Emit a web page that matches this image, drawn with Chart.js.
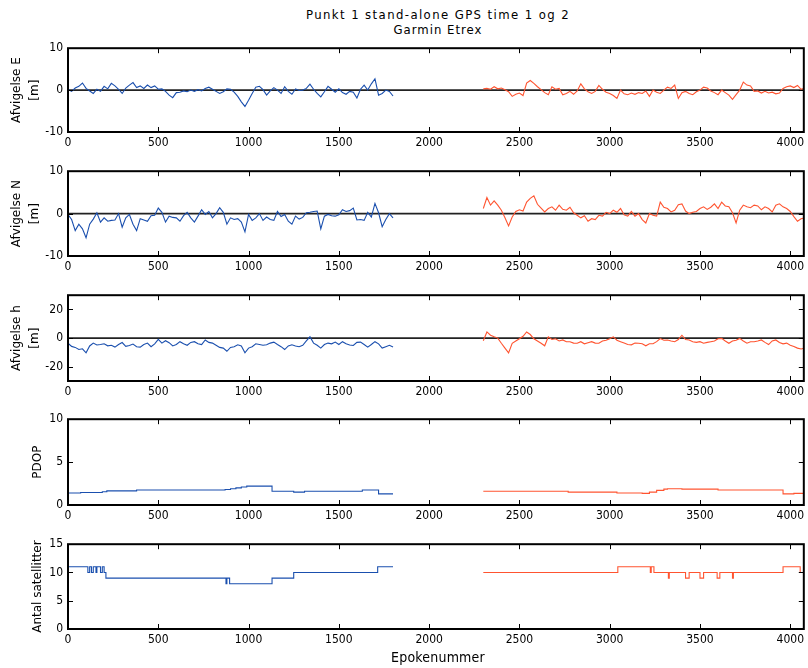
<!DOCTYPE html>
<html><head><meta charset="utf-8">
<script src="https://cdn.jsdelivr.net/npm/chart.js@4.4.1/dist/chart.umd.min.js"></script>
<style>
body{margin:0;background:#fff;width:808px;height:668px;overflow:hidden;position:relative;}
canvas{position:absolute;left:0;}
.t{position:absolute;left:68px;width:740px;text-align:center;font-family:'Liberation Sans Narrow','DejaVu Sans Condensed',sans-serif;color:#000;white-space:nowrap;line-height:15px;}
</style></head><body>
<div class="t" style="top:7px;font-size:13px;letter-spacing:1.4px">Punkt 1 stand-alone GPS time 1 og 2</div>
<div class="t" style="top:22px;font-size:13px;letter-spacing:1.0px">Garmin Etrex</div>
<canvas id="c1" width="808" height="118" style="top:36px"></canvas>
<canvas id="c2" width="808" height="119" style="top:159px"></canvas>
<canvas id="c3" width="808" height="120" style="top:283px"></canvas>
<canvas id="c4" width="808" height="120" style="top:407px"></canvas>
<canvas id="c5" width="808" height="119" style="top:532px"></canvas>
<div class="t" style="top:650px;font-size:14px;letter-spacing:0.2px">Epokenummer</div>
<script>
// ---------- data ----------
const X_TICKS = [0, 500, 1000, 1500, 2000, 2500, 3000, 3500, 4000];
const X_MAX = 4075;
const EPOCH_STEP = 20;
const BLUE_START = 0;
const RED_START = 2300;

const blueE = [0.2,-0.3,0.5,0.9,1.7,0.4,-0.2,-0.8,0.2,-0.3,
 0.9,0.3,1.6,1.0,0.2,-0.8,0.5,1.2,1.8,0.6,
 1.0,0.4,1.2,0.6,1.0,0.2,0.3,-0.3,-1.2,-1.8,
 -0.6,-0.5,-0.2,-0.4,0.0,-0.3,0.1,-0.2,0.4,0.7,
 0.2,-0.3,-0.8,-0.4,0.3,0.2,-0.5,-1.5,-2.8,-3.9,
 -2.4,-0.8,0.7,0.9,0.1,-1.2,-0.2,0.6,0.0,-0.8,
 0.8,-0.3,-1.0,0.3,-0.1,0.0,0.4,1.4,0.2,-0.8,
 -1.6,-0.4,0.9,0.2,-0.5,0.3,-0.6,-1.0,-0.3,-0.5,
 -1.9,0.2,1.2,0.0,1.5,2.7,-1.2,-0.8,0.0,-0.3,
 -1.4];
const redE = [0.3,0.4,0.2,0.8,0.3,0.5,0.1,-0.4,-1.5,-1.0,
 -0.7,-1.3,1.7,2.3,1.6,0.8,0.1,-0.6,-1.1,0.8,
 0.2,0.4,-1.1,-0.8,-0.3,-1.0,-0.2,1.5,0.3,-0.4,
 -0.8,-0.3,1.1,0.2,-0.5,-0.8,-1.3,-2.0,0.0,-0.9,
 -1.1,-0.7,-1.0,-0.6,-0.8,-0.2,-1.5,0.0,-0.5,-0.8,
 0.0,0.7,0.4,1.2,-2.0,-0.6,-0.3,-0.8,-1.1,-0.4,
 0.0,0.7,0.5,-0.2,-0.6,-1.1,0.0,-0.6,-1.2,-2.2,
 -1.1,0.0,1.9,1.2,1.0,-0.3,-0.2,-0.7,-0.3,-0.7,
 -0.5,-0.9,-0.7,0.4,0.8,1.0,0.6,1.1,0.2,0.5];

const blueN = [-0.2,-1.4,-4.0,-2.5,-3.6,-5.7,-2.5,-1.3,0.2,-2.0,
 -1.0,-1.8,-1.6,-1.5,0.0,-3.2,-1.0,-0.2,-2.5,-4.0,
 -1.2,-1.5,-1.8,-0.5,-0.4,1.3,0.3,-2.0,-0.6,-0.9,
 -1.0,-1.8,-0.5,0.3,-1.0,-2.0,-0.6,0.9,-0.2,0.5,
 -1.0,0.0,1.4,0.3,-2.5,-1.0,-1.4,-1.2,-2.0,-4.3,
 -0.2,-1.6,-1.0,0.0,-1.6,-0.8,-1.4,-1.6,0.5,-0.7,
 -0.2,-1.8,-2.5,-0.6,-1.3,-0.9,0.2,0.3,0.5,0.6,
 -3.6,-0.6,-0.2,-0.5,-0.6,-0.3,0.9,0.5,0.7,1.3,
 -1.5,-1.4,-1.6,0.3,-0.8,2.4,0.2,-3.1,-1.4,0.0,
 -1.0];
const redN = [1.2,3.8,2.0,3.0,2.0,0.8,-1.0,-2.9,-0.8,0.5,
 0.9,0.6,2.7,3.6,4.2,2.2,1.3,0.4,1.2,1.6,
 0.8,2.0,1.0,0.8,1.5,0.2,-0.4,-1.0,-0.5,-1.8,
 -1.2,-1.4,-0.4,-0.6,0.3,0.0,0.8,0.3,1.2,-0.3,
 -0.6,0.5,-0.6,0.0,-1.4,-2.2,0.0,-0.4,-0.6,2.7,
 1.5,1.2,0.4,0.8,2.1,2.3,0.6,0.0,0.3,0.5,
 1.2,1.6,1.0,1.5,2.3,1.2,2.7,1.8,1.6,0.2,
 -2.2,0.8,2.0,1.6,1.4,2.0,1.8,0.9,1.6,1.2,
 0.4,2.0,2.3,1.6,1.2,0.5,-0.7,-1.8,-1.2,-1.0];

const blueH = [-3.6,-5.8,-6.5,-8.0,-7.5,-10.3,-5.5,-3.5,-4.8,-4.5,
 -4.0,-5.4,-5.0,-6.3,-4.5,-3.1,-5.8,-5.2,-4.2,-6.0,
 -6.3,-4.5,-3.5,-6.0,-4.0,-0.9,-3.5,-1.8,-3.2,-5.5,
 -4.5,-2.5,-4.0,-5.0,-3.0,-2.5,-4.0,-4.5,-1.3,-3.0,
 -3.5,-5.0,-6.5,-7.0,-9.2,-6.5,-6.0,-4.7,-5.5,-10.3,
 -7.0,-6.0,-4.0,-4.5,-5.0,-4.7,-3.5,-2.8,-4.5,-6.0,
 -8.0,-5.5,-4.7,-5.5,-6.0,-5.0,-2.0,0.9,-3.5,-5.0,
 -7.0,-4.5,-3.5,-4.0,-2.8,-4.5,-2.5,-4.0,-4.8,-5.2,
 -3.0,-2.8,-4.5,-6.3,-4.5,-2.5,-4.0,-7.0,-6.0,-5.0,
 -6.3];
const redH = [-1.8,4.3,2.0,0.9,0.0,-3.6,-7.0,-10.3,-3.6,-2.0,
 -0.5,1.3,4.3,2.5,-0.5,-2.0,-3.6,-5.4,0.9,-1.0,
 -0.5,-2.0,-1.3,-2.5,-2.5,-3.5,-3.6,-2.5,-4.0,-3.2,
 -2.5,-3.5,-3.6,-2.0,-1.5,-0.5,0.9,-1.5,-2.5,-3.5,
 -4.5,-4.7,-3.5,-3.6,-4.0,-5.4,-4.0,-4.0,-2.5,-0.3,
 -1.5,-1.3,-2.0,-2.5,-1.0,2.0,-1.0,-1.3,-2.5,-3.0,
 -2.5,-3.6,-3.0,-2.5,-2.0,-0.5,-0.2,-2.0,-3.6,-2.0,
 -1.5,-0.2,-2.0,-3.6,-2.5,-2.5,-2.0,-1.3,-3.0,-4.5,
 -2.0,-1.3,-3.0,-4.0,-3.5,-5.0,-5.8,-7.0,-7.6,-7.0];

// step series (epoch where value starts, value)
const bluePdopEpochs = [0,70,190,215,380,870,900,930,960,990,1130,1250,1310,1630,1720,1800];
const bluePdop       = [1.4,1.45,1.55,1.65,1.75,1.8,1.9,2.0,2.1,2.2,1.6,1.5,1.6,1.75,1.3,1.3];
const redPdopEpochs  = [2300,2770,3040,3180,3220,3260,3300,3320,3400,3600,3960,4020,4080];
const redPdop        = [1.6,1.5,1.4,1.35,1.5,1.7,1.85,1.9,1.85,1.75,1.3,1.35,1.35];

const blueSatEpochs = [0,110,120,130,140,155,160,180,190,200,210,875,880,895,1130,1250,1715,1800];
const blueSat       = [11,10,11,10,11,10,11,10,11,10,9,8,9,8,9,10,11,11];
const redSatEpochs  = [2300,3045,3225,3230,3245,3325,3330,3420,3440,3500,3520,3595,3610,3680,3685,3960,4055,4080];
const redSat        = [10,11,10,11,10,9,10,9,10,9,10,9,10,9,10,11,10,10];

const Y_TICKS_E = [-10, 0, 10];
const Y_TICKS_N = [-10, 0, 10];
const Y_TICKS_H = [-20, 0, 20];
const Y_TICKS_PDOP = [0, 5, 10];
const Y_TICKS_SAT = [0, 5, 10, 15];

// ---------- helpers ----------
const BLUE = '#1a4fae';
const RED = '#ff5430';
function series(start, vals){ return vals.map((v,i)=>({x:start+i*EPOCH_STEP, y:v})); }
function steps(xs, ys){ return xs.map((x,i)=>({x:x, y:ys[i]})); }
const TICK_FONT = {family:"'Liberation Sans Narrow','DejaVu Sans Condensed',sans-serif", size:12};

const framePlugin = {
  id:'frame',
  beforeDatasetsDraw(chart, a, o){
    if(!o.zero) return;
    const ctx=chart.ctx, ca=chart.chartArea, y=chart.scales.y;
    const py=y.getPixelForValue(0);
    ctx.save(); ctx.strokeStyle='#222'; ctx.lineWidth=1.6;
    ctx.beginPath(); ctx.moveTo(ca.left,py); ctx.lineTo(ca.right,py); ctx.stroke(); ctx.restore();
  },
  afterDatasetsDraw(chart, a, o){
    const ctx=chart.ctx, ca=chart.chartArea, x=chart.scales.x, y=chart.scales.y;
    ctx.save(); ctx.strokeStyle='#000'; ctx.lineWidth=1;
    ctx.beginPath();
    X_TICKS.forEach(v=>{ const px=Math.round(x.getPixelForValue(v))+0.5;
      ctx.moveTo(px,ca.bottom); ctx.lineTo(px,ca.bottom-5); ctx.moveTo(px,ca.top); ctx.lineTo(px,ca.top+5); });
    y.ticks.forEach(t=>{ const py=Math.round(y.getPixelForValue(t.value))+0.5;
      ctx.moveTo(ca.left,py); ctx.lineTo(ca.left+5,py); ctx.moveTo(ca.right,py); ctx.lineTo(ca.right-5,py); });
    ctx.stroke();
    ctx.lineWidth=2;
    ctx.strokeRect(ca.left,ca.top,ca.right-ca.left,ca.bottom-ca.top);
    ctx.fillStyle='#000'; ctx.font="12px 'DejaVu Sans'"; ctx.textAlign='center'; ctx.textBaseline='middle';
    const lines=o.label, cy=(ca.top+ca.bottom)/2, n=lines.length;
    const base = n>1 ? 35 : 38;
    lines.forEach((s,i)=>{ const lx=base-(n-1-i)*18;
      ctx.save(); ctx.translate(lx,cy); ctx.rotate(-Math.PI/2); ctx.fillText(s,0,0); ctx.restore(); });
    ctx.restore();
  }
};

function makeChart(id, datasets, yMin, yMax, yTicks, label, zero){
  return new Chart(document.getElementById(id), {
    type:'line',
    data:{datasets:datasets},
    options:{
      responsive:false, animation:false, events:[],
      layout:{padding:{top:8,left:0,right:0,bottom:0}},
      plugins:{legend:{display:false}, tooltip:{enabled:false}, frame:{label:label, zero:zero}},
      elements:{point:{radius:0}, line:{borderWidth:1.1, tension:0}},
      scales:{
        x:{type:'linear', min:0, max:X_MAX,
           afterBuildTicks:s=>{ s.ticks=X_TICKS.map(v=>({value:v})); },
           ticks:{font:TICK_FONT, color:'#000', padding:4, maxRotation:0, autoSkip:false, callback:v=>String(v)},
           grid:{display:false, drawTicks:false}, border:{display:false},
           afterFit:s=>{ s.height=22; }},
        y:{min:yMin, max:yMax,
           afterBuildTicks:s=>{ s.ticks=yTicks.map(v=>({value:v})); },
           ticks:{font:TICK_FONT, color:'#000', padding:5, callback:v=>String(v)},
           grid:{display:false, drawTicks:false}, border:{display:false},
           afterFit:s=>{ s.width=68; }}
      }
    },
    plugins:[framePlugin]
  });
}

function ds(data, color, stepped){ return {data:data, borderColor:color, backgroundColor:color, fill:false, stepped:stepped?'before':false}; }

makeChart('c1', [ds(series(BLUE_START,blueE),BLUE), ds(series(RED_START,redE),RED)], -10, 10, Y_TICKS_E, ['Afvigelse E','[m]'], true);
makeChart('c2', [ds(series(BLUE_START,blueN),BLUE), ds(series(RED_START,redN),RED)], -10, 10, Y_TICKS_N, ['Afvigelse N','[m]'], true);
makeChart('c3', [ds(series(BLUE_START,blueH),BLUE), ds(series(RED_START,redH),RED)], -30, 30, Y_TICKS_H, ['Afvigelse h','[m]'], true);
makeChart('c4', [ds(steps(bluePdopEpochs,bluePdop),BLUE,true), ds(steps(redPdopEpochs,redPdop),RED,true)], 0, 10, Y_TICKS_PDOP, ['PDOP'], false);
makeChart('c5', [ds(steps(blueSatEpochs,blueSat),BLUE,true), ds(steps(redSatEpochs,redSat),RED,true)], 0, 15, Y_TICKS_SAT, ['Antal satellitter'], false);
</script>
</body></html>
